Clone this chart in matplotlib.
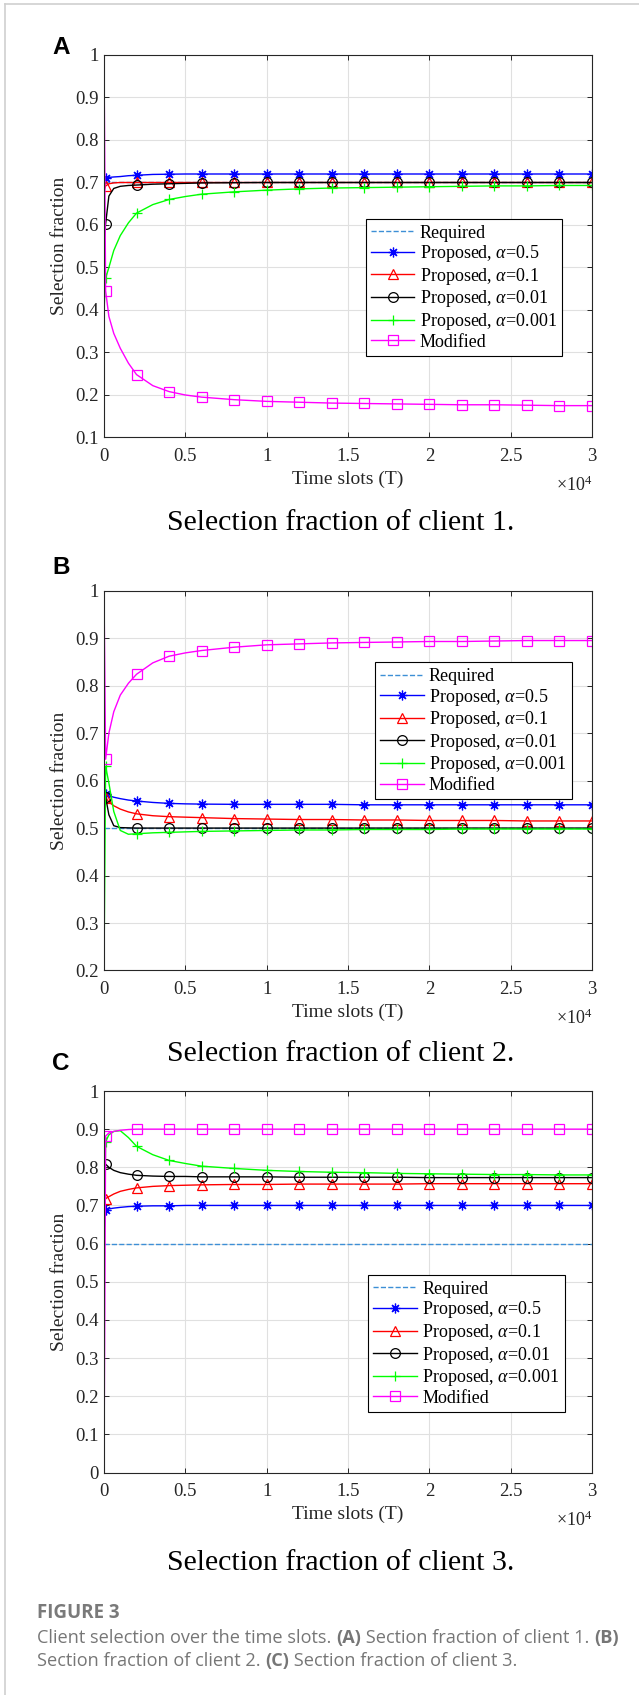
import matplotlib
matplotlib.use("Agg")
import matplotlib.pyplot as plt
from matplotlib.lines import Line2D

plt.rcParams['font.family'] = ['Liberation Serif', 'DejaVu Serif']
plt.rcParams['mathtext.fontset'] = 'custom'
plt.rcParams['mathtext.rm'] = 'Liberation Serif'
plt.rcParams['mathtext.it'] = 'Liberation Serif:italic'

# time slots (shared by all curves)
T = [0, 100, 300, 600, 1000, 1500, 2000, 3000, 4000, 5000, 6000, 8000, 10000,
     12000, 14000, 16000, 18000, 20000, 22000, 24000, 26000, 28000, 30000]
mark_idx = [1, 6, 8, 10, 11, 12, 13, 14, 15, 16, 17, 18, 19, 20, 21, 22]

labels = ['Required', r'Proposed, $\alpha$=0.5', r'Proposed, $\alpha$=0.1',
          r'Proposed, $\alpha$=0.01', r'Proposed, $\alpha$=0.001', 'Modified']

# client 1
req_1 = 0.7
blue_1 = [0.70, 0.711, 0.712, 0.713, 0.714, 0.716, 0.717, 0.719, 0.7195, 0.72, 0.72, 0.72,
          0.72, 0.72, 0.72, 0.72, 0.72, 0.72, 0.72, 0.72, 0.72, 0.72, 0.72]
red_1 = [0.68, 0.692, 0.697, 0.699, 0.70, 0.70, 0.70, 0.70, 0.70, 0.70, 0.70, 0.70,
         0.70, 0.70, 0.70, 0.70, 0.70, 0.70, 0.70, 0.70, 0.70, 0.70, 0.70]
black_1 = [0.56, 0.603, 0.668, 0.686, 0.691, 0.693, 0.694, 0.696, 0.697, 0.698, 0.699, 0.6995,
           0.70, 0.70, 0.70, 0.70, 0.70, 0.70, 0.70, 0.70, 0.70, 0.70, 0.70]
green_1 = [0.40, 0.475, 0.50, 0.54, 0.575, 0.605, 0.628, 0.648, 0.66, 0.667, 0.6725, 0.678,
           0.682, 0.685, 0.687, 0.688, 0.689, 0.690, 0.691, 0.692, 0.692, 0.693, 0.693]
mod_1 = [1.0, 0.445, 0.385, 0.345, 0.31, 0.275, 0.248, 0.222, 0.208, 0.20, 0.195, 0.189,
         0.185, 0.183, 0.181, 0.180, 0.179, 0.178, 0.177, 0.177, 0.176, 0.175, 0.175]

# client 2
req_2 = 0.5
blue_2 = [0.58, 0.572, 0.568, 0.565, 0.562, 0.559, 0.557, 0.554, 0.552, 0.551, 0.5505, 0.55,
          0.55, 0.55, 0.55, 0.549, 0.549, 0.549, 0.549, 0.549, 0.549, 0.549, 0.549]
red_2 = [0.56, 0.564, 0.555, 0.547, 0.54, 0.534, 0.53, 0.526, 0.524, 0.523, 0.522, 0.52,
         0.519, 0.518, 0.518, 0.517, 0.517, 0.516, 0.516, 0.516, 0.515, 0.515, 0.515]
black_2 = [0.55, 0.565, 0.528, 0.505, 0.501, 0.5005, 0.50, 0.50, 0.50, 0.50, 0.50, 0.50,
           0.50, 0.50, 0.50, 0.50, 0.50, 0.50, 0.50, 0.50, 0.50, 0.50, 0.50]
green_2 = [0.2, 0.63, 0.595, 0.535, 0.495, 0.487, 0.488, 0.49, 0.491, 0.492, 0.493, 0.494,
           0.495, 0.496, 0.496, 0.497, 0.497, 0.497, 0.498, 0.498, 0.498, 0.498, 0.498]
mod_2 = [1.0, 0.645, 0.70, 0.745, 0.78, 0.805, 0.824, 0.848, 0.862, 0.869, 0.874, 0.881,
         0.886, 0.888, 0.890, 0.891, 0.892, 0.893, 0.893, 0.894, 0.895, 0.895, 0.895]

# client 3
req_3 = 0.6
blue_3 = [0.63, 0.688, 0.691, 0.693, 0.695, 0.697, 0.698, 0.699, 0.699, 0.70, 0.70, 0.70,
          0.70, 0.70, 0.70, 0.70, 0.70, 0.70, 0.70, 0.70, 0.70, 0.70, 0.70]
red_3 = [0.70, 0.718, 0.723, 0.73, 0.737, 0.742, 0.746, 0.75, 0.752, 0.753, 0.754, 0.755,
         0.755, 0.756, 0.756, 0.756, 0.756, 0.757, 0.757, 0.757, 0.757, 0.757, 0.757]
black_3 = [0.79, 0.808, 0.80, 0.792, 0.786, 0.782, 0.779, 0.777, 0.776, 0.776, 0.775, 0.775,
           0.775, 0.774, 0.774, 0.774, 0.774, 0.773, 0.773, 0.773, 0.773, 0.773, 0.773]
green_3 = [0.55, 0.867, 0.885, 0.894, 0.896, 0.878, 0.855, 0.833, 0.818, 0.81, 0.803, 0.797,
           0.792, 0.789, 0.787, 0.786, 0.784, 0.783, 0.782, 0.781, 0.781, 0.780, 0.780]
mod_3 = [0.0, 0.882, 0.89, 0.894, 0.897, 0.899, 0.90, 0.90, 0.90, 0.90, 0.90, 0.90,
         0.90, 0.90, 0.90, 0.90, 0.90, 0.90, 0.90, 0.90, 0.90, 0.90, 0.90]

xticks = [0, 5000, 10000, 15000, 20000, 25000, 30000]
xticklabels = ['0', '0.5', '1', '1.5', '2', '2.5', '3']
yt_1 = [0.1, 0.2, 0.3, 0.4, 0.5, 0.6, 0.7, 0.8, 0.9, 1.0]
yt_2 = [0.2, 0.3, 0.4, 0.5, 0.6, 0.7, 0.8, 0.9, 1.0]
yt_3 = [0.0, 0.1, 0.2, 0.3, 0.4, 0.5, 0.6, 0.7, 0.8, 0.9, 1.0]

W, H = 639, 1695
fig = plt.figure(figsize=(W / 100, H / 100), dpi=100)


def fx(x):
    return x / W


def fy(y):
    return 1 - y / H


def panel(top, bottom, req, series, yticks, leg_xy, letter, letter_y, caption, cap_y):
    ax = fig.add_axes([fx(104), fy(bottom), fx(592) - fx(104), (bottom - top) / H])
    ax.plot([0, 30000], [req, req], '--', color='#3d8fd6', lw=1.0, label=labels[0])
    styles = [('#0000ff', (8, 2, 0)), ('#ff0000', '^'), ('#000000', 'o'),
              ('#00ff00', '+'), ('#ff00ff', 's')]
    for (c, m), ys, lab in zip(styles, series, labels[1:]):
        ax.plot(T, ys, color=c, lw=1.0, marker=m, ms=7, mfc='none', mec=c, mew=0.9,
                markevery=mark_idx, label=lab)
    ax.set_xlim(0, 30000)
    ax.set_ylim(yticks[0], yticks[-1])
    ax.set_xticks(xticks)
    ax.set_xticklabels(xticklabels)
    ax.set_yticks(yticks)
    ax.set_yticklabels(['%g' % v for v in yticks])
    ax.tick_params(direction='in', top=True, right=True, length=3.6, width=0.7,
                   colors='#262626', labelsize=13.5, pad=4)
    ax.tick_params(axis='x', pad=7.5)
    for s in ax.spines.values():
        s.set_color('#262626')
        s.set_linewidth(0.8)
    ax.grid(True, color='#e0e0e0', lw=0.8)
    ax.set_axisbelow(True)
    h = bottom - top
    ax.text(0.5, -41.5 / h, 'Time slots (T)', transform=ax.transAxes, ha='center',
            va='center', fontsize=14, color='#262626')
    ax.text(1.0, -47.5 / h, r'$\times10^{4}$', transform=ax.transAxes, ha='right',
            va='center', fontsize=13, color='#262626')
    ax.text(-44 / 488, 0.5, 'Selection fraction', transform=ax.transAxes, ha='center',
            va='center', rotation=90, fontsize=14, color='#262626')
    leg = ax.legend(loc='upper left', bbox_to_anchor=leg_xy, borderaxespad=0,
                    fontsize=13, fancybox=False, framealpha=1, edgecolor='#000000',
                    handlelength=2.4, handletextpad=0.3, labelspacing=0.09,
                    borderpad=0.3, numpoints=1)
    leg.get_frame().set_linewidth(0.8)
    fig.text(fx(61), fy(letter_y), letter, ha='center', va='center', fontsize=17.5,
             fontweight='bold', family='Liberation Sans')
    fig.text(fx(341), fy(cap_y), caption, ha='center', va='center', fontsize=21.5)
    return ax


panel(55, 437.5, req_1, [blue_1, red_1, black_1, green_1, mod_1], yt_1,
      (0.536, 0.571), 'A', 47, 'Selection fraction of client 1.', 523)
panel(590.7, 970.5, req_2, [blue_2, red_2, black_2, green_2, mod_2], yt_2,
      (0.555, 0.811), 'B', 568, 'Selection fraction of client 2.', 1054)
panel(1091, 1472.5, req_3, [blue_3, red_3, black_3, green_3, mod_3], yt_3,
      (0.541, 0.517), 'C', 1063, 'Selection fraction of client 3.', 1563)

# card frame
fig.add_artist(Line2D([fx(5), fx(5)], [0, fy(4)], transform=fig.transFigure,
                      color='#cfcfcf', lw=1.2))
fig.add_artist(Line2D([fx(5), 1], [fy(4), fy(4)], transform=fig.transFigure,
                      color='#cfcfcf', lw=1.2))

# figure caption
grey = '#767676'
fig.text(fx(37), fy(1613), 'FIGURE 3', ha='left', va='center', fontsize=13.5,
         fontweight='bold', family='Open Sans', color='#7a7a7a')

renderer = fig.canvas.get_renderer()


def rich_line(x, y, parts):
    for s, w in parts:
        t = fig.text(x, y, s, ha='left', va='center', fontsize=13.1, fontweight=w,
                     family='Open Sans', color=grey)
        x += t.get_window_extent(renderer).width / fig.bbox.width


rich_line(fx(37), fy(1638), [('Client selection over the time slots. ', 'normal'),
                             ('(A)', 'bold'),
                             (' Section fraction of client 1. ', 'normal'),
                             ('(B)', 'bold')])
rich_line(fx(37), fy(1661), [('Section fraction of client 2. ', 'normal'),
                             ('(C)', 'bold'),
                             (' Section fraction of client 3.', 'normal')])

fig.savefig('out.png', dpi=100)
